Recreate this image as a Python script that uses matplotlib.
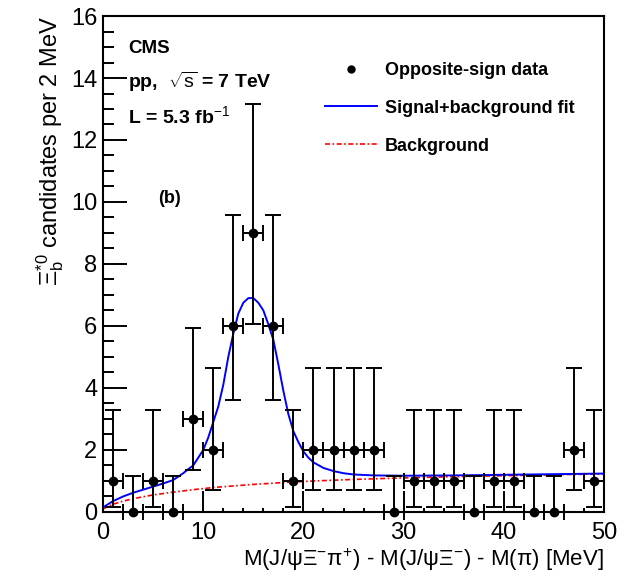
import numpy as np
import matplotlib
matplotlib.use('Agg')
import matplotlib.pyplot as plt
from matplotlib.lines import Line2D
from matplotlib.ticker import MultipleLocator

plt.rcParams['font.family'] = ['Liberation Sans', 'DejaVu Sans']
plt.rcParams['mathtext.fontset'] = 'custom'
plt.rcParams['mathtext.rm'] = 'Liberation Sans'
plt.rcParams['mathtext.it'] = 'Liberation Sans'
plt.rcParams['mathtext.bf'] = 'Liberation Sans:bold'

# data: 2 MeV bins
bin_centers = [1, 3, 5, 7, 9, 11, 13, 15, 17, 19, 21, 23, 25, 27, 29,
               31, 33, 35, 37, 39, 41, 43, 45, 47, 49]
counts = [1, 0, 1, 0, 3, 2, 6, 9, 6, 1, 2, 2, 2, 2, 0,
          1, 1, 1, 0, 1, 1, 0, 0, 2, 1]
# poisson error bars (lower, upper) per count
err_table = {0: (0.0, 1.15), 1: (0.83, 2.3), 2: (1.29, 2.64),
             3: (1.63, 2.92), 6: (2.38, 3.58), 9: (2.92, 4.15)}
bin_half_width = [1] * len(bin_centers)

# signal + background fit
fit_x = [0, 1, 2, 3, 4, 5, 6, 7, 8, 8.5, 9, 9.5, 10, 10.5, 11, 11.5, 12, 12.5,
         13, 13.5, 14, 14.5, 15, 15.5, 16, 16.5, 17, 17.5, 18, 18.5, 19, 19.5,
         20, 20.5, 21, 22, 23, 24, 25, 27, 30, 35, 40, 45, 50]
fit_y = [0.15, 0.35, 0.5, 0.62, 0.72, 0.82, 0.92, 1.03, 1.25, 1.38, 1.5, 1.75,
         2.0, 2.4, 2.9, 3.4, 4.1, 5.0, 5.75, 6.4, 6.75, 6.9, 6.9, 6.75, 6.5,
         6.05, 5.55, 4.75, 3.9, 3.15, 2.6, 2.25, 1.95, 1.75, 1.6, 1.42, 1.32,
         1.25, 1.21, 1.18, 1.17, 1.18, 1.2, 1.22, 1.24]

# background only
bkg_x = [0, 1, 2, 3, 5, 7, 9, 11, 13, 15, 18, 21, 25, 30, 35, 40, 45, 50]
bkg_y = [0.1, 0.25, 0.35, 0.43, 0.55, 0.64, 0.72, 0.79, 0.84, 0.89, 0.95,
         1.0, 1.05, 1.1, 1.14, 1.17, 1.2, 1.23]

err_lo = [err_table[c][0] for c in counts]
err_hi = [err_table[c][1] for c in counts]

bkg_style = (0, (3, 1.5, 1, 1.5))

fig = plt.figure(figsize=(6.28, 5.84), dpi=100)
ax = fig.add_axes([0.164, 0.1233, 0.798, 0.8493])

ax.plot(bkg_x, bkg_y, color='#ff0000', lw=1.2, ls=bkg_style)
ax.plot(fit_x, fit_y, color='#0000ff', lw=1.4)
eb = ax.errorbar(bin_centers, counts, yerr=[err_lo, err_hi], xerr=bin_half_width,
                 fmt='o', color='black', ms=6, elinewidth=1.4, capsize=6,
                 capthick=1.4, clip_on=False, zorder=3)
for artist in eb.lines[1] + eb.lines[2]:
    artist.set_clip_on(False)

ax.set_xlim(0, 50)
ax.set_ylim(0, 16)
ax.xaxis.set_major_locator(MultipleLocator(10))
ax.xaxis.set_minor_locator(MultipleLocator(2))
ax.yaxis.set_major_locator(MultipleLocator(2))
ax.yaxis.set_minor_locator(MultipleLocator(0.5))
ax.tick_params(which='both', direction='in', top=False, right=False,
               labelsize=17, width=1.4)
ax.tick_params(axis='y', which='major', length=17, pad=4)
ax.tick_params(axis='y', which='minor', length=8)
ax.tick_params(axis='x', which='major', length=15, pad=7)
ax.tick_params(axis='x', which='minor', length=3)
for sp in ax.spines.values():
    sp.set_linewidth(1.5)

ax.set_ylabel(r'$\Xi_b^{*0}$ candidates per 2 MeV', fontsize=17, loc='top',
              labelpad=4)
ax.set_xlabel(r'M(J/$\psi\Xi^{-}\pi^{+}$) - M(J/$\psi\Xi^{-}$) - M($\pi$) [MeV]',
              fontsize=16, loc='right', labelpad=2)

ax.text(0.05, 0.935, 'CMS', transform=ax.transAxes, fontsize=13.5,
        fontweight='bold', va='center')
ax.text(0.05, 0.868, r'pp,  $\sqrt{s}$ = 7 TeV', transform=ax.transAxes,
        fontsize=14, fontweight='bold', va='center')
ax.text(0.05, 0.798, r'L = 5.3 fb$^{-1}$', transform=ax.transAxes,
        fontsize=14, fontweight='bold', va='center')
ax.text(0.11, 0.633, '(b)', transform=ax.transAxes, fontsize=13,
        fontweight='bold', va='center')

handles = [Line2D([], [], color='black', marker='o', ls='none', ms=5),
           Line2D([], [], color='#0000ff', lw=1.4),
           Line2D([], [], color='#ff0000', lw=1.2, ls=bkg_style)]
labels = ['Opposite-sign data', 'Signal+background fit', 'Background']
leg = ax.legend(handles, labels, loc='upper left', bbox_to_anchor=(0.41, 0.94),
                frameon=False, handlelength=2.9, handletextpad=0.45,
                labelspacing=1.15, prop={'size': 13, 'weight': 'bold'})

fig.savefig('out.png', dpi=100)
